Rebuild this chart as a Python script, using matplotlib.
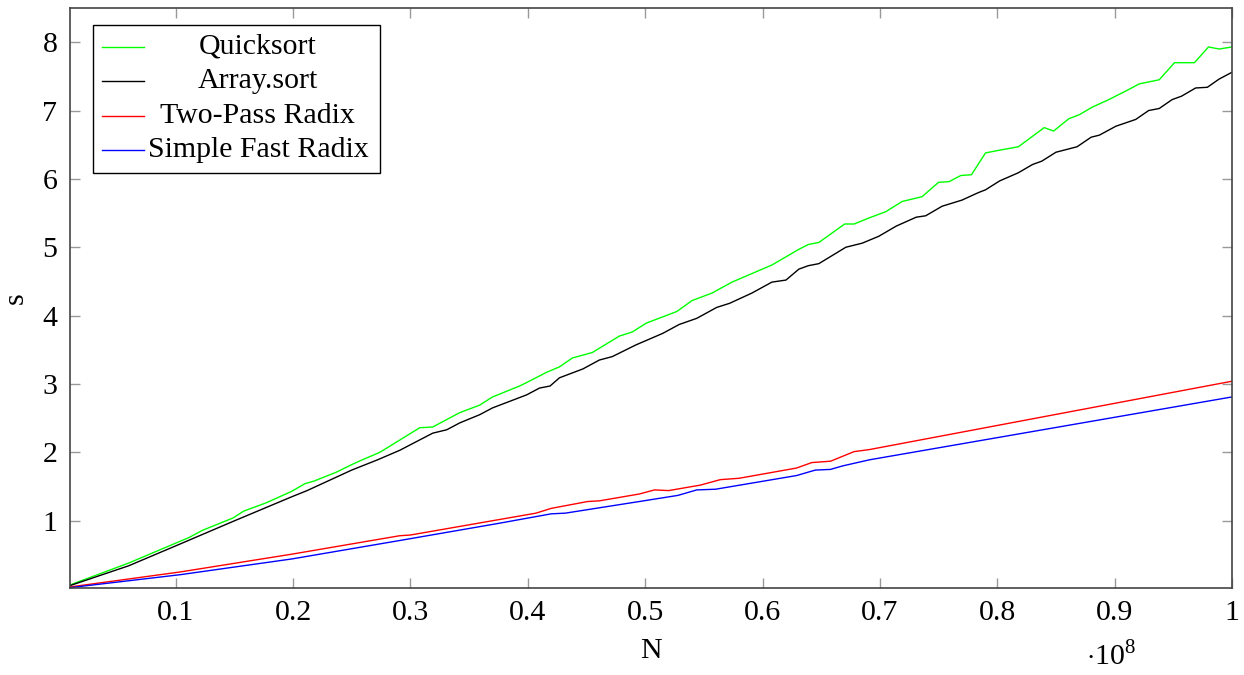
import matplotlib.pyplot as plt
from matplotlib.patches import Rectangle

plt.rcParams['font.family'] = ['Liberation Serif', 'DejaVu Serif']
plt.rcParams['mathtext.fontset'] = 'custom'
plt.rcParams['mathtext.rm'] = 'Liberation Serif'

# N in units of 1e8, time in seconds
quick_n = [0.01, 0.06, 0.104, 0.111, 0.123, 0.149, 0.158, 0.177, 0.199, 0.21, 0.218, 0.237,
           0.25, 0.259, 0.274, 0.291, 0.308, 0.319, 0.342, 0.359, 0.370, 0.393, 0.399, 0.416,
           0.427, 0.438, 0.455, 0.478, 0.489, 0.501, 0.527, 0.540, 0.557, 0.574, 0.608, 0.631,
           0.639, 0.648, 0.670, 0.678, 0.691, 0.705, 0.719, 0.736, 0.750, 0.759, 0.769, 0.778,
           0.790, 0.802, 0.818, 0.840, 0.848, 0.861, 0.870, 0.881, 0.895, 0.910, 0.921, 0.938,
           0.951, 0.968, 0.980, 0.989, 1.0]
quick_s = [0.06, 0.38, 0.70, 0.75, 0.86, 1.04, 1.14, 1.26, 1.43, 1.54, 1.58, 1.71,
           1.82, 1.89, 2.00, 2.18, 2.36, 2.37, 2.58, 2.69, 2.81, 2.97, 3.02, 3.17,
           3.25, 3.38, 3.46, 3.70, 3.76, 3.89, 4.06, 4.22, 4.33, 4.49, 4.74, 4.97,
           5.04, 5.07, 5.34, 5.34, 5.43, 5.52, 5.67, 5.74, 5.95, 5.96, 6.05, 6.06,
           6.38, 6.42, 6.47, 6.75, 6.70, 6.88, 6.94, 7.05, 7.16, 7.29, 7.39, 7.45,
           7.70, 7.70, 7.93, 7.90, 7.93]

array_n = [0.01, 0.06, 0.104, 0.149, 0.199, 0.212, 0.25, 0.272, 0.291, 0.319, 0.331, 0.342,
           0.359, 0.370, 0.399, 0.410, 0.419, 0.427, 0.447, 0.461, 0.472, 0.492, 0.515, 0.529,
           0.544, 0.561, 0.572, 0.591, 0.608, 0.620, 0.631, 0.639, 0.648, 0.671, 0.685, 0.699,
           0.714, 0.731, 0.739, 0.753, 0.770, 0.784, 0.790, 0.802, 0.818, 0.830, 0.838, 0.850,
           0.868, 0.880, 0.887, 0.901, 0.918, 0.929, 0.938, 0.949, 0.957, 0.969, 0.979, 0.989,
           1.0]
array_s = [0.05, 0.34, 0.66, 0.99, 1.35, 1.44, 1.74, 1.89, 2.03, 2.28, 2.33, 2.43,
           2.55, 2.65, 2.84, 2.94, 2.97, 3.09, 3.22, 3.35, 3.40, 3.57, 3.74, 3.87,
           3.96, 4.12, 4.18, 4.33, 4.49, 4.52, 4.68, 4.73, 4.76, 5.00, 5.06, 5.16,
           5.31, 5.44, 5.46, 5.60, 5.69, 5.80, 5.84, 5.97, 6.09, 6.21, 6.26, 6.39,
           6.47, 6.61, 6.64, 6.77, 6.87, 7.00, 7.03, 7.16, 7.21, 7.33, 7.34, 7.46,
           7.56]

twopass_n = [0.01, 0.104, 0.199, 0.291, 0.30, 0.407, 0.42, 0.451, 0.461, 0.495, 0.508, 0.520,
             0.547, 0.564, 0.58, 0.629, 0.642, 0.658, 0.678, 0.691, 1.0]
twopass_s = [0.03, 0.25, 0.51, 0.78, 0.79, 1.11, 1.18, 1.28, 1.29, 1.39, 1.45, 1.44,
             1.52, 1.60, 1.62, 1.77, 1.85, 1.87, 2.01, 2.04, 3.04]

simple_n = [0.01, 0.104, 0.199, 0.291, 0.375, 0.42, 0.432, 0.495, 0.528, 0.544, 0.56, 0.629,
            0.645, 0.658, 0.668, 0.691, 1.0]
simple_s = [0.02, 0.21, 0.44, 0.71, 0.96, 1.10, 1.11, 1.28, 1.37, 1.45, 1.46, 1.66,
            1.74, 1.75, 1.80, 1.89, 2.81]

series = [
    ("Quicksort", quick_n, quick_s, "#00ff00"),
    ("Array.sort", array_n, array_s, "black"),
    ("Two-Pass Radix", twopass_n, twopass_s, "#ff0000"),
    ("Simple Fast Radix", simple_n, simple_s, "#0000ff"),
]

x_ticks = [0.1, 0.2, 0.3, 0.4, 0.5, 0.6, 0.7, 0.8, 0.9, 1.0]
x_labels = ["0.1", "0.2", "0.3", "0.4", "0.5", "0.6", "0.7", "0.8", "0.9", "1"]
y_ticks = [1, 2, 3, 4, 5, 6, 7, 8]

FS = 21.5

fig = plt.figure(figsize=(12.44, 6.75), dpi=100)
ax = fig.add_axes([70 / 1244, 1 - 588 / 675, 1162 / 1244, 580 / 675])

for name, n, s, c in series:
    ax.plot(n, s, color=c, lw=1.0, solid_joinstyle="round")

ax.set_xlim(0.01, 1.0)
ax.set_ylim(0.015, 8.5)
ax.set_xticks(x_ticks)
ax.set_xticklabels(x_labels)
ax.set_yticks(y_ticks)
ax.tick_params(direction="in", length=7, width=1, color="#999999",
               top=True, right=True, labelsize=FS, pad=9)
for sp in ax.spines.values():
    sp.set_color("#444444")
    sp.set_linewidth(1.2)

ax.set_xlabel("N", fontsize=FS, labelpad=8)
ax.set_ylabel("s", fontsize=FS, labelpad=10)
fig.text(1086 / 1244, 1 - 656 / 675, r"$\cdot 10^{8}$", fontsize=FS, va="center")

# legend drawn by hand so the labels are centered like pgfplots
ax.add_patch(Rectangle((0.0198, 0.7155), 0.247, 0.2552, transform=ax.transAxes,
                       facecolor="white", edgecolor="black", lw=1.0, zorder=5))
rows = [0.9328, 0.8741, 0.8138, 0.7552]
for (name, n, s, c), yy in zip(series, rows):
    ax.plot([0.0275, 0.0637], [yy, yy], transform=ax.transAxes, color=c, lw=1.0, zorder=6)
    ax.text(0.1617, yy, name, transform=ax.transAxes, ha="center", va="center",
            fontsize=FS, zorder=6)

fig.savefig("out.png", dpi=100)
